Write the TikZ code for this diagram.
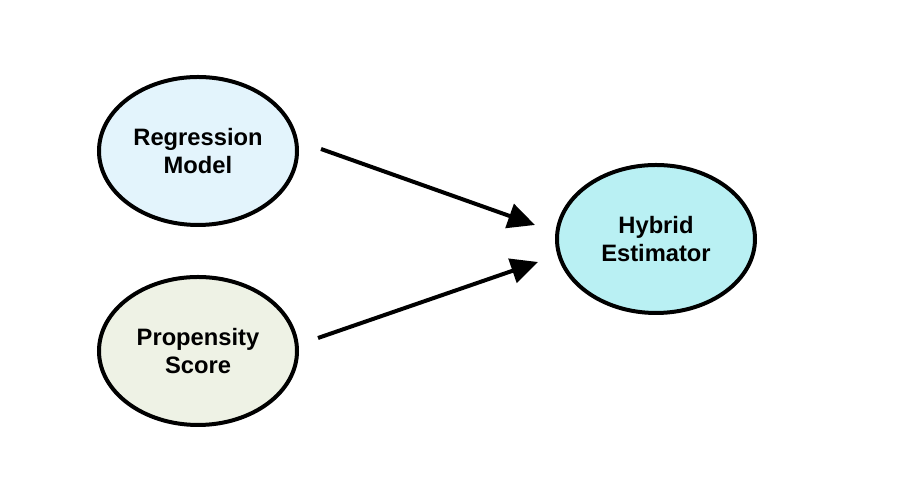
\documentclass[tikz,border=0pt]{standalone}
\usepackage{fontspec}
\setmainfont{Liberation Sans}
\usetikzlibrary{arrows.meta, shapes.geometric}
\definecolor{regfill}{HTML}{E3F4FC}
\definecolor{propfill}{HTML}{EEF2E5}
\definecolor{hybfill}{HTML}{B9F0F3}
\begin{document}
\begin{tikzpicture}[>={Triangle[length=0.54cm, width=0.5cm]}, every node/.style={ellipse, draw, line width=0.08cm, minimum width=3.96cm, minimum height=2.96cm, inner sep=0pt, align=center, font=\bfseries\fontsize{13.5}{16}\selectfont}]
    \useasboundingbox (0, 0) rectangle (18, 9.88);
    % Define vertices
    \node[fill=regfill] (reg) at (3.96, 6.86) {Regression\\Model};
    \node[fill=propfill] (prop) at (3.96, 2.86) {Propensity\\Score};
    \node[fill=hybfill] (hyb) at (13.12, 5.10) {Hybrid\\Estimator};

    % Draw edges
    \draw [->, line width=0.08cm] ([shift={(0.44, 0.04)}]reg.east) -- ([shift={(-0.40, 0.28)}]hyb.west); % Edge reg -> hyb
    \draw [->, line width=0.08cm] ([shift={(0.38, 0.26)}]prop.east) -- ([shift={(-0.34, -0.46)}]hyb.west); % Edge prop -> hyb
\end{tikzpicture}
\end{document}
